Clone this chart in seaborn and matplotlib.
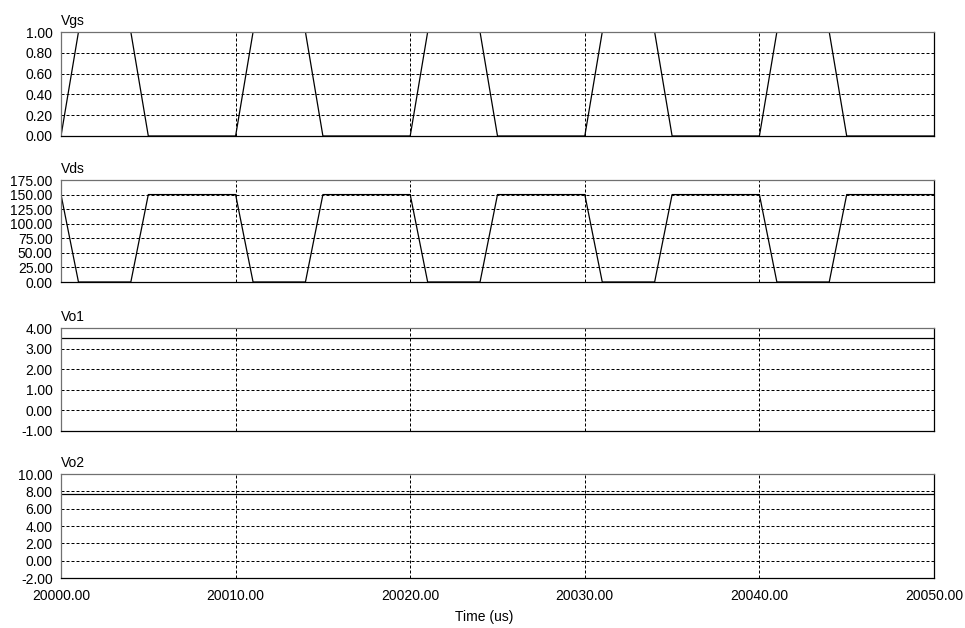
import numpy as np
import pandas as pd
import matplotlib
matplotlib.use("Agg")
import matplotlib.pyplot as plt
import seaborn as sns

# simulation traces (time in us)
time_us = [20000, 20001, 20004, 20005, 20010, 20011, 20014, 20015,
           20020, 20021, 20024, 20025, 20030, 20031, 20034, 20035,
           20040, 20041, 20044, 20045, 20050]
vgs = [0, 1, 1, 0, 0, 1, 1, 0, 0, 1, 1, 0, 0, 1, 1, 0, 0, 1, 1, 0, 0]
vds = [150, 0, 0, 150, 150, 0, 0, 150, 150, 0, 0, 150, 150, 0, 0, 150,
       150, 0, 0, 150, 150]
vo1_time = [20000, 20050]
vo1 = [3.5, 3.5]
vo2_time = [20000, 20050]
vo2 = [7.7, 7.7]

x_ticks = [20000, 20010, 20020, 20030, 20040, 20050]
vgs_ticks = [0.0, 0.2, 0.4, 0.6, 0.8, 1.0]
vds_ticks = [0, 25, 50, 75, 100, 125, 150, 175]
vo1_ticks = [-1, 0, 1, 2, 3, 4]
vo2_ticks = [-2, 0, 2, 4, 6, 8, 10]

sns.set_style("white")
plt.rcParams['font.family'] = ['Liberation Sans', 'DejaVu Sans']
plt.rcParams['text.color'] = 'black'
plt.rcParams['xtick.color'] = 'black'
plt.rcParams['ytick.color'] = 'black'

W, H = 965, 628
fig = plt.figure(figsize=(W / 100, H / 100), dpi=100)

left, right = 61, 934
panels = [
    ("Vgs", time_us, vgs, vgs_ticks, 32, 136),
    ("Vds", time_us, vds, vds_ticks, 180, 282),
    ("Vo1", vo1_time, vo1, vo1_ticks, 328, 431),
    ("Vo2", vo2_time, vo2, vo2_ticks, 474, 578),
]

axes = []
for name, tx, vy, yt, top, bot in panels:
    ax = fig.add_axes([left / W, 1 - bot / H, (right - left) / W, (bot - top) / H])
    df = pd.DataFrame({"t": tx, "v": vy})
    sns.lineplot(data=df, x="t", y="v", ax=ax, color="black", linewidth=0.9)
    ax.set_xlim(x_ticks[0], x_ticks[-1])
    ax.set_ylim(yt[0], yt[-1])
    ax.set_yticks(yt)
    ax.set_yticklabels([f"{v:.2f}" for v in yt], fontsize=10, color="black")
    ax.set_xticks(x_ticks)
    ax.set_xlabel("")
    ax.set_ylabel("")
    # dashed grid inside the frame only
    for v in yt[1:-1]:
        ax.axhline(v, color="black", linewidth=0.72, linestyle=(0, (3, 2)), zorder=0)
    for v in x_ticks[1:-1]:
        ax.axvline(v, color="black", linewidth=0.72, linestyle=(0, (3, 2)), zorder=0)
    ax.tick_params(length=0, pad=6)
    for side in ["top", "left"]:
        ax.spines[side].set_color("#707070")
    for side in ["bottom", "right"]:
        ax.spines[side].set_color("black")
    for s in ax.spines.values():
        s.set_linewidth(0.9)
    ax.annotate(name, xy=(0, 1), xycoords="axes fraction", xytext=(0, 5),
                textcoords="offset points", ha="left", va="baseline",
                fontsize=10, color="black")
    axes.append(ax)

for ax in axes[:-1]:
    ax.set_xticklabels([])
axes[-1].set_xticklabels([f"{v:.2f}" for v in x_ticks], fontsize=10, color="black")
axes[-1].tick_params(axis="x", pad=8)

fig.text(484 / W, 1 - 617 / H, "Time (us)", ha="center", va="center",
         fontsize=10, color="black")

fig.savefig("out.png", dpi=100)
